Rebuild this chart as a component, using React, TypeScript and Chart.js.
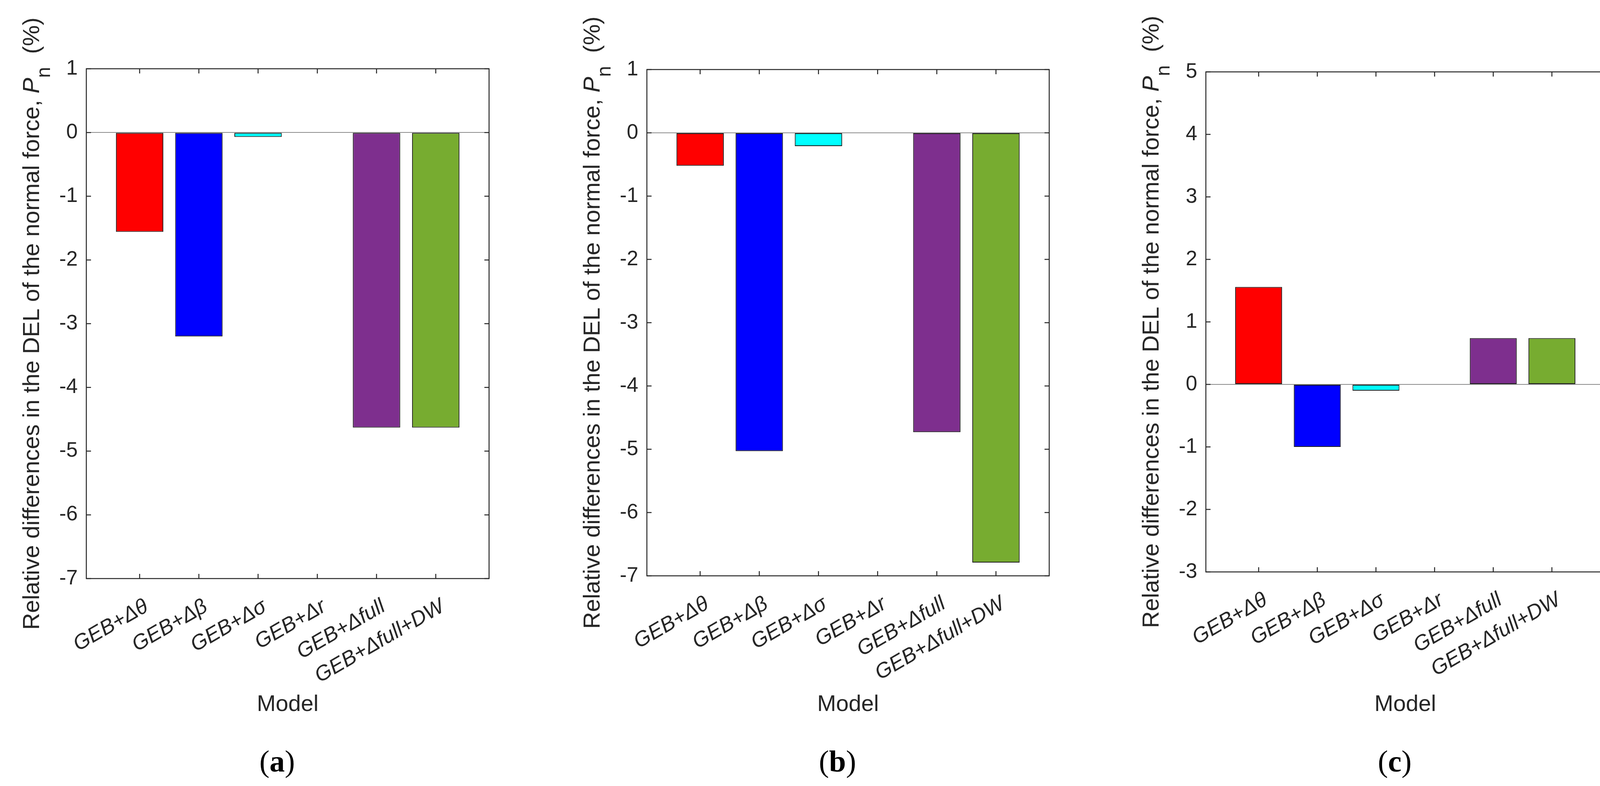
import { useEffect, useRef } from "react";
import { Chart, registerables } from "chart.js";

Chart.register(...registerables);

// categories shared by the three panels
const models = ["GEB+Δθ", "GEB+Δβ", "GEB+Δσ", "GEB+Δr", "GEB+Δfull", "GEB+Δfull+DW"];
const modelPos = [1, 2, 3, 4, 5, 6];
const barColors = ["#ff0000", "#0000ff", "#00ffff", "#edb120", "#7e2f8e", "#77ac30"];

// relative differences in the DEL of the normal force (%)
const valuesA = [-1.56, -3.2, -0.07, 0, -4.63, -4.63];
const valuesB = [-0.52, -5.03, -0.21, 0, -4.73, -6.79];
const valuesC = [1.56, -1.0, -0.1, 0, 0.74, 0.74];

const yTicksAB = [-7, -6, -5, -4, -3, -2, -1, 0, 1];
const yTicksC = [-3, -2, -1, 0, 1, 2, 3, 4, 5];

const FIG_H = 2012;
const SANS = "'Liberation Sans', Arial, sans-serif";
const SERIF = "'Liberation Serif', 'Times New Roman', serif";
const INK = "#262626";

type PanelProps = {
  values: number[];
  yTicks: number[];
  caption: string;
  left: number; // canvas left on the page
  width: number; // canvas width
  axisLeft: number;
  axisRight: number;
  top: number;
  bottom: number;
};

function Panel({ values, yTicks, caption, left, width, axisLeft, axisRight, top, bottom }: PanelProps) {
  const canvasRef = useRef<HTMLCanvasElement>(null);
  const chartRef = useRef<Chart | null>(null);

  useEffect(() => {
    if (!canvasRef.current) return;
    if (chartRef.current) chartRef.current.destroy();
    const ctx = canvasRef.current.getContext("2d");
    if (!ctx) return;

    // axes box, inward ticks, y label, x label and panel caption
    const decorations = {
      id: "matlabDecor",
      afterDraw(chart: any) {
        const c = chart.ctx as CanvasRenderingContext2D;
        const { left: l, right: r, top: t, bottom: b } = chart.chartArea;
        const xs = chart.scales.x;
        const ys = chart.scales.y;
        c.save();
        c.strokeStyle = INK;
        c.lineWidth = 2.5;
        c.strokeRect(l, t, r - l, b - t);
        c.beginPath();
        modelPos.forEach((v) => {
          const px = xs.getPixelForValue(v);
          c.moveTo(px, b);
          c.lineTo(px, b - 12);
          c.moveTo(px, t);
          c.lineTo(px, t + 12);
        });
        yTicks.forEach((v) => {
          const py = ys.getPixelForValue(v);
          c.moveTo(l, py);
          c.lineTo(l + 12, py);
          c.moveTo(r, py);
          c.lineTo(r - 12, py);
        });
        c.stroke();

        // y title with italic P and subscript n
        const parts = [
          { text: "Relative differences in the DEL of the normal force, ", font: `60px ${SANS}`, dy: 0 },
          { text: "P", font: `italic 60px ${SANS}`, dy: 0 },
          { text: "n", font: `50px ${SANS}`, dy: 28 },
          { text: "  (%)", font: `60px ${SANS}`, dy: 0 },
        ];
        let total = 0;
        parts.forEach((p) => {
          c.font = p.font;
          total += c.measureText(p.text).width;
        });
        c.save();
        c.translate(l - 121, (t + b) / 2);
        c.rotate(-Math.PI / 2);
        c.fillStyle = INK;
        c.textBaseline = "alphabetic";
        c.textAlign = "left";
        let x = -total / 2;
        parts.forEach((p) => {
          c.font = p.font;
          c.fillText(p.text, x, p.dy);
          x += c.measureText(p.text).width;
        });
        c.restore();

        // x title
        c.fillStyle = INK;
        c.font = `58px ${SANS}`;
        c.textAlign = "center";
        c.textBaseline = "alphabetic";
        c.fillText("Model", (l + r) / 2, 1820);

        // caption (x) with bold letter
        const capParts = [
          { text: "(", font: `78px ${SERIF}` },
          { text: caption, font: `bold 78px ${SERIF}` },
          { text: ")", font: `78px ${SERIF}` },
        ];
        let cw = 0;
        capParts.forEach((p) => {
          c.font = p.font;
          cw += c.measureText(p.text).width;
        });
        c.fillStyle = "#000";
        c.textAlign = "left";
        let cx = (l + r) / 2 - 27 - cw / 2;
        capParts.forEach((p) => {
          c.font = p.font;
          c.fillText(p.text, cx, 1975);
          cx += c.measureText(p.text).width;
        });
        c.restore();
      },
    };

    chartRef.current = new Chart(ctx, {
      type: "bar",
      data: {
        datasets: [
          {
            data: values.map((v, i) => ({ x: modelPos[i], y: v })),
            backgroundColor: barColors,
            borderColor: "#1a1a1a",
            borderWidth: 2,
            borderSkipped: false,
            barPercentage: 0.8,
            categoryPercentage: 1,
          },
        ],
      },
      options: {
        responsive: false,
        animation: false,
        devicePixelRatio: 1,
        layout: { padding: { left: 0, top: top, right: left + width - axisRight, bottom: 0 } },
        plugins: { legend: { display: false }, tooltip: { enabled: false } },
        scales: {
          x: {
            type: "linear",
            min: 0.1,
            max: 6.9,
            offset: false,
            afterBuildTicks: (s: any) => {
              s.ticks = modelPos.map((v) => ({ value: v }));
            },
            afterFit: (s: any) => {
              s.height = FIG_H - bottom;
              s.paddingLeft = 0;
              s.paddingRight = 0;
            },
            grid: { display: false, drawTicks: false, offset: false },
            border: { display: false },
            ticks: {
              autoSkip: false,
              maxRotation: 30,
              minRotation: 30,
              padding: 40,
              labelOffset: 18,
              color: INK,
              font: { family: SANS, size: 54, style: "italic" },
              callback: (v: any) => models[Math.round(Number(v)) - 1] ?? "",
            },
          },
          y: {
            type: "linear",
            min: yTicks[0],
            max: yTicks[yTicks.length - 1],
            afterBuildTicks: (s: any) => {
              s.ticks = yTicks.map((v) => ({ value: v }));
            },
            afterFit: (s: any) => {
              s.width = axisLeft - left;
              s.paddingTop = 0;
              s.paddingBottom = 0;
            },
            grid: {
              drawTicks: false,
              lineWidth: 2,
              color: (c: any) => (c.tick && c.tick.value === 0 ? "#8c8c8c" : "rgba(0,0,0,0)"),
            },
            border: { display: false },
            ticks: {
              padding: 22,
              color: INK,
              font: { family: SANS, size: 53 },
              callback: (v: any) => String(v),
            },
          },
        },
      },
      plugins: [decorations],
    } as any);

    return () => {
      if (chartRef.current) {
        chartRef.current.destroy();
        chartRef.current = null;
      }
    };
  }, []);

  return (
    <canvas
      ref={canvasRef}
      width={width}
      height={FIG_H}
      style={{ position: "absolute", left, top: 0, width, height: FIG_H }}
    />
  );
}

export default function App() {
  return (
    <div style={{ position: "absolute", left: 0, top: 0, width: 4155, height: FIG_H, background: "#fff" }}>
      <Panel values={valuesA} yTicks={yTicksAB} caption="a" left={0} width={1400} axisLeft={221} axisRight={1252} top={176} bottom={1481} />
      <Panel values={valuesB} yTicks={yTicksAB} caption="b" left={1400} width={1430} axisLeft={1656} axisRight={2686} top={178} bottom={1474} />
      <Panel values={valuesC} yTicks={yTicksC} caption="c" left={2830} width={1325} axisLeft={3087} axisRight={4108} top={184} bottom={1464} />
    </div>
  );
}
